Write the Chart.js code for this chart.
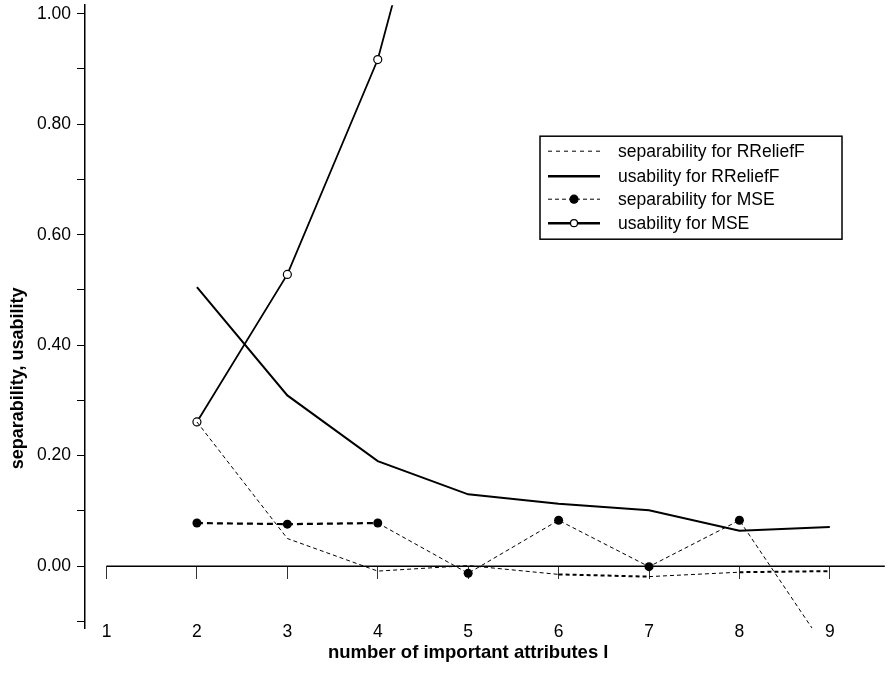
<!DOCTYPE html>
<html>
<head>
<meta charset="utf-8">
<script src="https://cdn.jsdelivr.net/npm/chart.js@4.4.0/dist/chart.umd.min.js"></script>
<style>
  html, body { margin: 0; padding: 0; background: #fff; }
  #wrap { width: 890px; height: 674px; }
</style>
</head>
<body>
<div id="wrap"><canvas id="chart" width="890" height="674"></canvas></div>
<script>
// number of important attributes l
const attributes = [2, 3, 4, 5, 6, 7, 8, 9];
const sepRRelief = [0.261, 0.050, -0.009, 0.001, -0.015, -0.019, -0.011, -0.009];
const useRRelief = [0.505, 0.309, 0.190, 0.130, 0.113, 0.101, 0.064, 0.071];
const sepMSE = [0.078, 0.076, 0.078, -0.013, 0.083, -0.001, 0.083, -0.160];
const useMSE = [0.261, 0.528, 0.917, 1.530]; // runs off the top after l = 4
const seriesNames = ['separability for RReliefF', 'usability for RReliefF', 'separability for MSE', 'usability for MSE'];

const xTicks = [1, 2, 3, 4, 5, 6, 7, 8, 9];
const xTickLabels = ['1', '2', '3', '4', '5', '6', '7', '8', '9'];
const yTicks = [-0.1, 0, 0.1, 0.2, 0.3, 0.4, 0.5, 0.6, 0.7, 0.8, 0.9, 1.0];
const yTickLabels = ['', '0.00', '', '0.20', '', '0.40', '', '0.60', '', '0.80', '', '1.00'];

const FONT = "'Liberation Sans', Arial, Helvetica, sans-serif";
const toPoints = ys => ys.map((y, i) => ({ x: attributes[i], y: y }));

// extra drawing: zero axis line, axis titles, boxed legend
const extras = {
    id: 'extras',
    beforeDatasetsDraw(chart) {
        const { ctx, scales: { x, y }, chartArea } = chart;
        const y0 = y.getPixelForValue(0);
        ctx.save();
        ctx.strokeStyle = '#000';
        ctx.lineWidth = 1.5;
        ctx.beginPath();
        ctx.moveTo(x.getPixelForValue(1), y0);
        ctx.lineTo(chartArea.right, y0);
        ctx.stroke();
        ctx.restore();
    },
    afterDraw(chart) {
        const { ctx, scales: { x, y }, chartArea } = chart;
        ctx.save();
        ctx.fillStyle = '#000';
        ctx.textAlign = 'center';
        ctx.textBaseline = 'middle';
        ctx.font = `bold 18.5px ${FONT}`;
        ctx.fillText('number of important attributes l', x.getPixelForValue(5), chartArea.bottom + 25);

        ctx.font = `bold 18px ${FONT}`;
        ctx.translate(18, y.getPixelForValue(0.34));
        ctx.rotate(-Math.PI / 2);
        ctx.fillText('separability, usability', 0, 0);
        ctx.restore();

        // legend box
        const bx = chartArea.left + 455, by = chartArea.top + 131, bw = 302, bh = 103;
        ctx.save();
        ctx.fillStyle = '#fff';
        ctx.fillRect(bx, by, bw, bh);
        ctx.strokeStyle = '#000';
        ctx.lineWidth = 1.5;
        ctx.strokeRect(bx, by, bw, bh);
        ctx.font = `17.5px ${FONT}`;
        ctx.textBaseline = 'middle';
        ctx.textAlign = 'left';
        const rowY = [by + 15, by + 40, by + 63, by + 87];
        chart.data.datasets.forEach((ds, i) => {
            const ly = rowY[i];
            const x1 = bx + 8, x2 = bx + 60, xm = (x1 + x2) / 2;
            ctx.save();
            ctx.strokeStyle = '#000';
            ctx.lineWidth = ds.legendWidth;
            ctx.setLineDash(ds.legendDash);
            ctx.beginPath();
            ctx.moveTo(x1, ly);
            ctx.lineTo(x2, ly);
            ctx.stroke();
            ctx.setLineDash([]);
            if (ds.pointRadius > 0) {
                ctx.beginPath();
                ctx.arc(xm, ly, ds.pointRadius - 0.5, 0, Math.PI * 2);
                ctx.fillStyle = ds.pointBackgroundColor;
                ctx.fill();
                ctx.lineWidth = 1.2;
                ctx.stroke();
            }
            ctx.restore();
            ctx.fillStyle = '#000';
            ctx.fillText(ds.label, bx + 78, ly + 1);
        });
        ctx.restore();
    }
};

new Chart(document.getElementById('chart'), {
    type: 'line',
    data: {
        datasets: [
            {
                label: seriesNames[0],
                data: toPoints(sepRRelief),
                borderColor: '#000',
                borderWidth: 1,
                borderDash: [4, 3],
                segment: {
                    borderWidth: ctx => (ctx.p0DataIndex === 4 || ctx.p0DataIndex === 6) ? 2 : 1
                },
                pointRadius: 0,
                legendWidth: 1, legendDash: [4, 4],
                tension: 0
            },
            {
                label: seriesNames[1],
                data: toPoints(useRRelief),
                borderColor: '#000',
                borderWidth: 2,
                pointRadius: 0,
                legendWidth: 2.5, legendDash: [],
                tension: 0
            },
            {
                label: seriesNames[2],
                data: toPoints(sepMSE),
                borderColor: '#000',
                borderWidth: 1,
                borderDash: [4, 3],
                segment: {
                    borderWidth: ctx => ctx.p0DataIndex < 2 ? 2.2 : 1,
                    borderDash: ctx => ctx.p0DataIndex < 2 ? [6, 4] : [4, 3]
                },
                pointRadius: 4.5,
                pointBackgroundColor: '#000',
                pointBorderColor: '#000',
                pointBorderWidth: 0,
                legendWidth: 1, legendDash: [4, 3],
                tension: 0
            },
            {
                label: seriesNames[3],
                data: toPoints(useMSE),
                borderColor: '#000',
                borderWidth: 1.8,
                pointRadius: 4,
                pointBackgroundColor: '#fff',
                pointBorderColor: '#000',
                pointBorderWidth: 1.2,
                legendWidth: 2.5, legendDash: [],
                tension: 0
            }
        ]
    },
    options: {
        responsive: false,
        animation: false,
        events: [],
        layout: { padding: { left: 0, right: 0, top: 4, bottom: 46 } },
        plugins: {
            legend: { display: false },
            tooltip: { enabled: false }
        },
        scales: {
            x: {
                type: 'linear',
                min: 0.762,
                max: 9.608,
                position: { y: 0 },
                afterBuildTicks: s => { s.ticks = xTicks.map(v => ({ value: v })); },
                afterFit: s => { s.paddingLeft = 0; s.paddingRight = 0; },
                border: { display: false },
                grid: { drawOnChartArea: false, drawTicks: true, tickLength: 13, color: '#333', lineWidth: 1 },
                ticks: {
                    padding: 43,
                    autoSkip: false,
                    maxRotation: 0,
                    color: '#000',
                    font: { family: FONT, size: 17.5 },
                    callback: (v, i) => xTickLabels[i]
                }
            },
            y: {
                type: 'linear',
                min: -0.112,
                max: 1.0154,
                afterBuildTicks: s => { s.ticks = yTicks.map(v => ({ value: v })); },
                afterFit: s => { s.width = 85; s.paddingTop = 0; s.paddingBottom = 0; },
                border: { display: true, color: '#000', width: 1.5 },
                grid: { drawOnChartArea: false, drawTicks: true, tickLength: 8, color: '#000', lineWidth: 1 },
                ticks: {
                    padding: 6,
                    autoSkip: false,
                    color: '#000',
                    font: { family: FONT, size: 17.5 },
                    callback: (v, i) => yTickLabels[i]
                }
            }
        }
    },
    plugins: [extras]
});
</script>
</body>
</html>
